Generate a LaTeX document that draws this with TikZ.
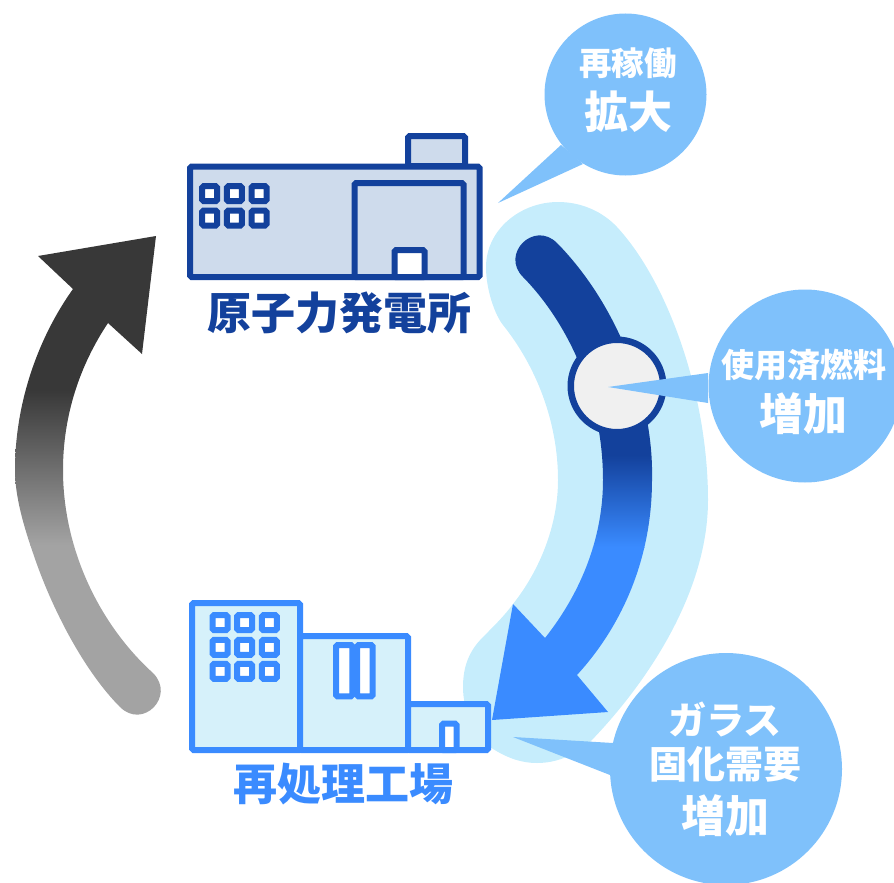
\documentclass[tikz,border=0pt]{standalone}
\usepackage{fontspec}
\newfontfamily\jpfont{Noto Sans CJK JP}

\definecolor{navyblue}{HTML}{13419C}
\definecolor{brightblue}{HTML}{3A8BFF}
\definecolor{bandblue}{HTML}{C6EDFC}
\definecolor{bubbleblue}{HTML}{7FC1FB}
\definecolor{plantfill}{HTML}{CEDBEC}
\definecolor{workfill}{HTML}{D6F1FA}
\definecolor{darkgrey}{HTML}{383838}
\definecolor{lightgrey}{HTML}{A3A3A3}

\tikzset{
  plantwall/.style={draw=navyblue, line width=6pt, rounded corners=1.5pt, fill=plantfill},
  workwall/.style={draw=brightblue, line width=6pt, rounded corners=1.5pt, fill=workfill},
  bubble/.style={circle, fill=bubbleblue, inner sep=0pt},
  bubbletext/.style={text=white, align=center, inner sep=0pt, font=\jpfont\bfseries},
  sitename/.style={inner sep=0pt, font=\jpfont\bfseries\fontsize{44}{44}\selectfont},
}

\begin{document}
\begin{tikzpicture}[x=1pt, y=-1pt]

  \useasboundingbox (0,0) rectangle (894,883);

  \coordinate (restarttip) at (498,203);
  \coordinate (spenttip) at (608,387);
  \coordinate (glasstip) at (513,737);

  % band behind the blue arrow
  \fill[bandblue] (486,267) .. controls (486,230) and (520,202) .. (558,202)
    .. controls (582,202) and (603,212) .. (617,227)
    .. controls (668,282) and (708,395) .. (708,500)
    .. controls (708,590) and (650,680) .. (590,742)
    .. controls (575,755) and (557,763) .. (537,763)
    .. controls (520,763) and (505,757) .. (490,747)
    .. controls (475,737) and (463,712) .. (463,687)
    .. controls (463,665) and (470,650) .. (483,637)
    .. controls (495,625) and (505,615) .. (513,604)
    .. controls (540,570) and (558,525) .. (558,480)
    .. controls (558,420) and (535,365) .. (503,325)
    .. controls (495,315) and (486,290) .. (486,267) -- cycle;

  % blue arrow
  \begin{scope}
    \clip (557,243) .. controls (618,305) and (654,400) .. (652,480)
      .. controls (652,560) and (621,627) .. (577,675)
      -- (608,712) -- (492,720) -- (513,604) -- (545,638)
      .. controls (583,590) and (603,535) .. (603,480)
      .. controls (603,400) and (570,325) .. (523,277)
      .. controls (500,254) and (534,220) .. (557,243) -- cycle;
    \fill[navyblue] (480,220) rectangle (660,455);
    \shade[top color=navyblue, bottom color=brightblue] (480,455) rectangle (660,547);
    \fill[brightblue] (480,547) rectangle (660,730);
  \end{scope}

  % grey arrow
  \begin{scope}
    \clip (120,707) .. controls (85,672) and (52,610) .. (33,553)
      .. controls (24,527) and (15,497) .. (15,470)
      .. controls (15,400) and (40,335) .. (73,289)
      -- (38,256) -- (156,236) -- (142,354) -- (108,323)
      .. controls (80,365) and (63,415) .. (63,470)
      .. controls (63,550) and (100,625) .. (153,673)
      .. controls (176,696) and (143,730) .. (120,707) -- cycle;
    \fill[darkgrey] (0,220) rectangle (170,390);
    \shade[top color=darkgrey, bottom color=lightgrey] (0,390) rectangle (170,545);
    \fill[lightgrey] (0,545) rectangle (170,730);
  \end{scope}

  \node[circle, draw=navyblue, line width=6.5pt, fill=black!6, minimum size=92.5pt, inner sep=0pt] (store) at (617,386) {};

  % speech bubbles
  \node[bubble, minimum size=162pt] (restart) at (625.5,94.5) {};
  \fill[bubbleblue] (561,145) -- (restarttip) -- (583,164) -- cycle;
  \node[bubble, minimum size=193pt] (spent) at (805,386) {};
  \fill[bubbleblue] (708,373) -- (spenttip) -- (708,403) -- cycle;
  \node[bubble, minimum size=232pt] (glass) at (726,769) {};
  \fill[bubbleblue] (613,743) -- (glasstip) -- (610,775) -- cycle;

  \node[bubbletext] (restartlabel) at (628,90) {\fontsize{32.5}{47}\selectfont 再稼働\\[11pt]\fontsize{44}{47}\selectfont 拡大};
  \node[bubbletext] (spentlabel) at (803.5,392) {\fontsize{33}{47}\selectfont 使用済燃料\\[11pt]\fontsize{44}{47}\selectfont 増加};
  \node[bubbletext] (glasslabel) at (725,769) {\fontsize{38}{47}\selectfont ガラス\\[9pt]\fontsize{38}{47}\selectfont 固化需要\\[11pt]\fontsize{44}{47}\selectfont 増加};

  % power plant
  \draw[plantwall] (408,166) rectangle (465,136);
  \draw[plantwall] (190,166.5) rectangle (479.5,277);
  \draw[plantwall] (354.5,277) rectangle (463.5,183);
  \draw[plantwall, fill=white] (394.5,277) rectangle (424.5,250);
  \foreach \px in {209.7,234.3,259}
    \foreach \py in {193.7,218}
      \draw[plantwall, fill=white] (\px-7.5,\py-7.5) rectangle (\px+7.5,\py+7.5);
  \node[sitename, text=navyblue] (plant) at (339,313) {原子力発電所};

  % reprocessing works
  \draw[workwall] (192,750) rectangle (300,603);
  \draw[workwall] (300,750) rectangle (408,636);
  \draw[workwall] (408,750) rectangle (488,704);
  \foreach \px in {220,244.5,269.3}
    \foreach \py in {622.7,647.3,671.3}
      \draw[workwall, fill=white] (\px-7.5,\py-7.5) rectangle (\px+7.5,\py+7.5);
  \draw[workwall, fill=white] (336,645) rectangle (352.3,696.3);
  \draw[workwall, fill=white] (357,645) rectangle (372.7,696.3);
  \draw[workwall, fill=white] (442,750) rectangle (456.7,723.7);
  \node[sitename, text=brightblue] (works) at (343.5,784) {再処理工場};

\end{tikzpicture}
\end{document}
